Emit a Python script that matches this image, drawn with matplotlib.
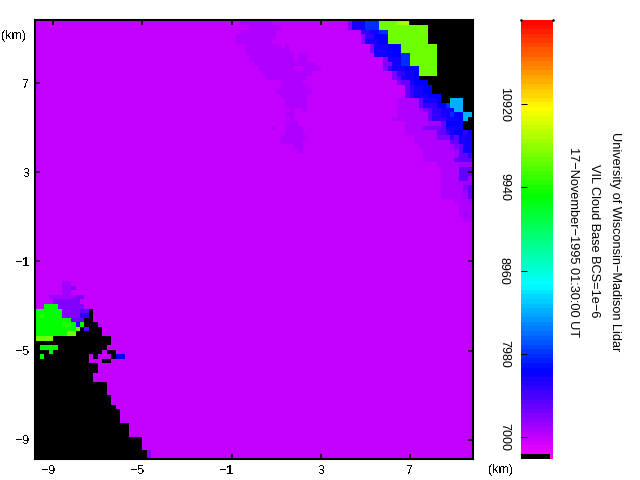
"""
VIL cloud base image, Wisconsin lidar, with rainbow colour bar
"""
import numpy as np
import matplotlib
matplotlib.use("Agg")
import matplotlib.pyplot as plt
from matplotlib.colors import LinearSegmentedColormap, Normalize
from matplotlib.transforms import ScaledTranslation

plt.rcParams['font.family'] = ['Liberation Sans', 'DejaVu Sans']
plt.rcParams['text.antialiased'] = False

x_ticks = [-9, -5, -1, 3, 7]
y_ticks = [-9, -5, -1, 3, 7]
cbar_ticks = [7000, 7980, 8960, 9940, 10920]
title_lines = ["University of Wisconsin\u2212Madison Lidar",
               "VIL Cloud Base BCS=1e\u22126",
               "17\u2212November\u22121995 01:30:00 UT"]

vmin = 6741
vmax = 11913
# cloud base height (m) of every colour seen in the picture, '#' is no data
levels = {'.': 7000, 'p': 7070, 'v': 7126, 'w': 7258, 'x': 7387, 'b': 7584,
          'B': 7708, 'D': 7775, 'E': 7967, 'C': 8484, 'G': 9844, 'H': 9990,
          'L': 10294, 'Y': 10501, '#': np.nan}

# runs per row (first col, last col, colour), rows from the top, cols from col 70
top_right_rows = [
    [(0, 0, 'w'), (1, 3, 'B'), (4, 6, 'E'), (7, 10, 'L'), (11, 13, 'Y'), (14, 27, '#')],
    [(0, 0, 'w'), (1, 3, 'B'), (4, 6, 'E'), (7, 17, 'L'), (18, 27, '#')],
    [(3, 4, 'b'), (5, 6, 'B'), (7, 8, 'E'), (9, 17, 'L'), (18, 27, '#')],
    [(3, 3, 'w'), (4, 5, 'b'), (6, 8, 'D'), (9, 17, 'L'), (18, 27, '#')],
    [(3, 3, 'w'), (4, 6, 'B'), (7, 8, 'D'), (9, 17, 'L'), (18, 27, '#')],
    [(5, 5, 'w'), (6, 8, 'B'), (9, 11, 'D'), (12, 19, 'L'), (20, 27, '#')],
    [(5, 5, 'w'), (6, 8, 'B'), (9, 11, 'D'), (12, 19, 'L'), (20, 27, '#')],
    [(6, 8, 'B'), (9, 11, 'D'), (12, 13, 'E'), (14, 19, 'L'), (20, 27, '#')],
    [(8, 8, 'w'), (9, 11, 'B'), (12, 13, 'E'), (14, 19, 'L'), (20, 27, '#')],
    [(8, 9, 'w'), (10, 11, 'B'), (12, 13, 'E'), (14, 19, 'L'), (20, 27, '#')],
    [(8, 8, 'w'), (9, 9, 'b'), (10, 12, 'B'), (13, 15, 'D'), (16, 19, 'L'), (20, 27, '#')],
    [(10, 10, 'w'), (11, 12, 'b'), (13, 14, 'B'), (15, 15, 'D'), (16, 19, 'L'), (20, 27, '#')],
    [(10, 10, 'w'), (11, 11, 'x'), (12, 14, 'B'), (15, 15, 'D'), (16, 27, '#')],
    [(11, 11, 'w'), (12, 13, 'x'), (14, 14, 'B'), (15, 17, 'D'), (18, 27, '#')],
    [(13, 13, 'x'), (14, 14, 'b'), (15, 16, 'B'), (17, 18, 'D'), (19, 27, '#')],
    [(13, 13, 'x'), (14, 14, 'b'), (15, 16, 'B'), (17, 18, 'D'), (19, 27, '#')],
    [(13, 13, 'x'), (14, 14, 'b'), (15, 17, 'B'), (18, 20, 'D'), (21, 27, '#')],
    [(11, 15, 'p'), (16, 16, 'x'), (17, 19, 'B'), (20, 20, 'D'), (21, 22, '#'), (23, 25, 'C'), (26, 27, '#')],
    [(11, 15, 'p'), (16, 16, 'x'), (17, 19, 'b'), (20, 21, 'D'), (22, 22, 'E'), (23, 25, 'C'), (26, 27, '#')],
    [(11, 15, 'p'), (16, 16, 'v'), (17, 17, 'w'), (18, 18, 'x'), (19, 20, 'b'), (21, 23, 'B'), (24, 25, 'C'), (26, 27, '#')],
    [(11, 17, 'p'), (18, 18, 'x'), (19, 20, 'b'), (21, 22, 'B'), (23, 23, 'E'), (24, 25, 'D'), (26, 27, 'C')],
    [(10, 17, 'p'), (18, 18, 'x'), (19, 21, 'b'), (22, 24, 'B'), (25, 25, 'D'), (26, 26, 'C'), (27, 27, '#')],
    [(13, 17, 'p'), (18, 20, 'v'), (21, 21, 'x'), (22, 25, 'D'), (26, 27, '#')],
    [(13, 16, 'p'), (17, 20, 'w'), (21, 21, 'x'), (22, 25, 'B'), (26, 27, '#')],
    [(13, 19, 'p'), (20, 20, 'x'), (21, 21, 'x'), (22, 22, 'b'), (23, 23, 'B'), (24, 25, 'D'), (26, 26, 'b'), (27, 27, 'D')],
    [(15, 19, 'p'), (20, 22, 'w'), (23, 23, 'b'), (24, 24, 'x'), (25, 27, 'B')],
    [(15, 22, 'p'), (23, 24, 'x'), (25, 27, 'B')],
    [(16, 22, 'p'), (23, 23, 'v'), (24, 24, 'w'), (25, 25, 'x'), (26, 27, 'B')],
    [(17, 23, 'p'), (24, 24, 'v'), (25, 25, 'x'), (26, 27, 'B')],
    [(17, 23, 'p'), (24, 24, 'v'), (25, 26, 'x'), (27, 27, 'b')],
    [(17, 23, 'p'), (24, 27, 'x')],
    [(20, 24, 'p'), (25, 27, 'v')],
    [(21, 24, 'p'), (25, 27, 'x')],
    [(21, 24, 'p'), (25, 27, 'x')],
    [(21, 24, 'p'), (25, 26, 'x'), (27, 27, 'v')],
    [(21, 25, 'p'), (26, 27, 'v')],
    [(21, 25, 'p'), (26, 26, 'w'), (27, 27, 'x')],
    [(21, 25, 'p'), (26, 26, 'v'), (27, 27, 'x')],
    [(21, 25, 'p'), (26, 26, 'v'), (27, 27, 'x')],
    [(24, 26, 'p'), (27, 27, 'v')],
    [(25, 27, 'p')],
    [(25, 27, 'p')],
    [(25, 25, 'p'), (26, 26, 'v'), (27, 27, 'p')],
    [(26, 27, 'p')],
]

# slightly darker streak in the middle, (row, first col, last col)
streak_runs = [
    (0, 46, 52), (1, 48, 54), (2, 46, 53), (3, 45, 53), (4, 45, 52), (5, 47, 54),
    (5, 56, 56), (6, 47, 56), (7, 48, 57), (7, 59, 60), (8, 48, 57), (8, 59, 60),
    (9, 49, 62), (10, 50, 57), (10, 60, 63), (11, 51, 61), (12, 52, 60),
    (13, 55, 59), (14, 55, 60), (15, 54, 61), (16, 55, 60), (17, 56, 60),
    (18, 56, 60), (19, 57, 57), (19, 60, 60), (20, 56, 57), (21, 57, 57),
    (22, 56, 58), (23, 53, 53), (23, 56, 59), (24, 56, 59), (25, 55, 60),
    (26, 55, 59), (27, 58, 59), (28, 59, 59),
]

# lower left corner, (row, first col, last col, colour), later runs paint over
bottom_left_runs = [
    (57, 6, 7, 'v'), (58, 6, 7, 'v'), (58, 8, 8, 'w'), (59, 6, 7, 'v'),
    (60, 3, 8, 'v'), (60, 9, 10, 'w'), (61, 4, 9, 'w'), (62, 2, 5, 'G'),
    (62, 5, 10, 'w'), (63, 0, 5, 'G'), (63, 6, 9, 'w'), (63, 10, 11, 'x'),
    (63, 12, 12, '#'), (64, 0, 5, 'G'), (64, 1, 1, 'H'), (64, 6, 9, 'w'),
    (64, 10, 11, 'b'), (64, 12, 12, '#'), (65, 0, 7, 'G'), (65, 8, 10, 'x'),
    (65, 11, 12, '#'), (66, 0, 8, 'G'), (66, 6, 7, 'H'), (66, 9, 9, 'b'),
    (66, 10, 10, 'G'), (66, 11, 13, '#'), (67, 0, 8, 'G'), (67, 9, 9, 'L'),
    (67, 10, 10, '#'), (67, 11, 11, 'x'), (67, 12, 14, '#'), (68, 0, 6, 'G'),
    (68, 7, 8, 'L'), (68, 9, 14, '#'), (69, 0, 16, '#'), (69, 0, 3, 'L'),
    (70, 0, 16, '#'), (71, 0, 15, '#'), (71, 1, 4, 'G'), (72, 0, 14, '#'),
    (72, 3, 3, 'G'), (72, 16, 17, '#'), (73, 0, 11, '#'), (73, 1, 1, 'G'),
    (73, 13, 13, '#'), (73, 17, 17, '#'), (73, 18, 19, 'D'), (74, 0, 11, '#'),
    (74, 15, 16, '#'), (75, 0, 13, '#'), (76, 0, 13, '#'), (77, 0, 12, '#'),
    (78, 0, 12, '#'), (79, 0, 15, '#'), (80, 0, 15, '#'), (81, 0, 15, '#'),
    (82, 0, 16, '#'), (83, 0, 16, '#'), (84, 0, 17, '#'), (85, 0, 18, '#'),
    (86, 0, 18, '#'), (87, 0, 18, '#'), (88, 0, 20, '#'), (89, 0, 20, '#'),
    (90, 0, 20, '#'), (91, 0, 23, '#'), (92, 0, 23, '#'), (93, 0, 23, '#'),
    (94, 0, 24, '#'), (94, 25, 25, 'w'), (95, 0, 24, '#'), (95, 25, 25, 'w'),
]

# thin last column at the right edge, (first row, last row, colour)
right_edge_runs = [(65, 69, 'G')]


def buildGrid():
    grid = np.full((96, 99), float(levels['.']))
    for r, c0, c1 in streak_runs:
        grid[r, c0:c1 + 1] = levels['p']
    for r, row in enumerate(top_right_rows):
        for c0, c1, code in row:
            grid[r, 70 + c0:70 + c1 + 1] = levels[code]
    for r, c0, c1, code in bottom_left_runs:
        grid[r, c0:c1 + 1] = levels[code]
    for r0, r1, code in right_edge_runs:
        grid[r0:r1 + 1, 98] = levels[code]
    return grid


if __name__ == '__main__':
    cmap = LinearSegmentedColormap.from_list(
        "rainbow_vil",
        [(0.0, "#ff00ff"), (0.2, "#0000ff"), (0.4, "#00ffff"),
         (0.6, "#00ff00"), (0.8, "#ffff00"), (1.0, "#ff0000")], N=256)
    cmap.set_bad("black")
    norm = Normalize(vmin, vmax)

    fig = plt.figure(figsize=(6.4, 4.8), dpi=100, facecolor="white")
    ax = fig.add_axes([35 / 640, 1 - 459 / 480, 438 / 640, 439 / 480])

    grid = buildGrid()
    x_edges = -9.8 + 0.2 * np.arange(100)
    y_edges = 9.8 - 0.205 * np.arange(97)
    ax.pcolormesh(x_edges, y_edges, np.ma.masked_invalid(grid), cmap=cmap, norm=norm,
                  shading="flat", antialiased=False)
    ax.set_xlim(-9.82, 9.83)
    ax.set_ylim(-9.86, 9.83)
    ax.set_xticks(x_ticks)
    ax.set_yticks(y_ticks)
    ax.set_xticklabels([str(t).replace("-", "\u2212") for t in x_ticks])
    ax.set_yticklabels([str(t).replace("-", "\u2212") for t in y_ticks])
    ax.tick_params(direction="in", top=True, right=True, length=3.6, width=1.2,
                   labelsize=9, pad=4, color="black")
    # negative labels sit a little left of their tick in the reference
    for t, label in zip(x_ticks, ax.get_xticklabels()):
        if t < 0:
            label.set_transform(label.get_transform() + ScaledTranslation(-3.5 / 72, 0, fig.dpi_scale_trans))
    for s in ax.spines.values():
        s.set_linewidth(1.5)
    fig.text(1 / 640, 1 - 36 / 480, "(km)", fontsize=9, va="center", ha="left")
    fig.text(488 / 640, 1 - 470 / 480, "(km)", fontsize=9, va="center", ha="left")

    cax = fig.add_axes([521 / 640, 1 - 459 / 480, 32 / 640, 439 / 480])
    band_edges = np.linspace(vmin, vmax, 97)
    band_values = (band_edges[:-1] + band_edges[1:]) / 2
    cax.pcolormesh([0, 1], band_edges, band_values[:, None], cmap=cmap, norm=norm,
                   shading="flat", antialiased=False)
    cax.fill_between([0, 0.91], vmin, vmin + 4.5 * 11.8, color="black", lw=0)
    cax.set_xlim(0, 1)
    cax.set_ylim(vmin, vmax)
    cax.set_xticks([])
    cax.set_yticks(cbar_ticks)
    cax.set_yticklabels([str(t) for t in cbar_ticks], rotation=-90, va="center", antialiased=True)
    cax.tick_params(axis="y", direction="in", length=4.3, width=0.7,
                    labelsize=9, pad=8)
    for s in cax.spines.values():
        s.set_visible(False)
    cax.plot([0, 1], [vmax, vmax], ls="none", marker="s", ms=0.8, color="black", clip_on=False)

    for text_x, text_y, line in zip([615, 594, 573], [242, 241, 242], title_lines):
        fig.text(text_x / 640, 1 - text_y / 480, line, rotation=-90, fontsize=9.2,
                 ha="center", va="center", antialiased=True)

    fig.savefig("out.png", dpi=100, facecolor="white")
